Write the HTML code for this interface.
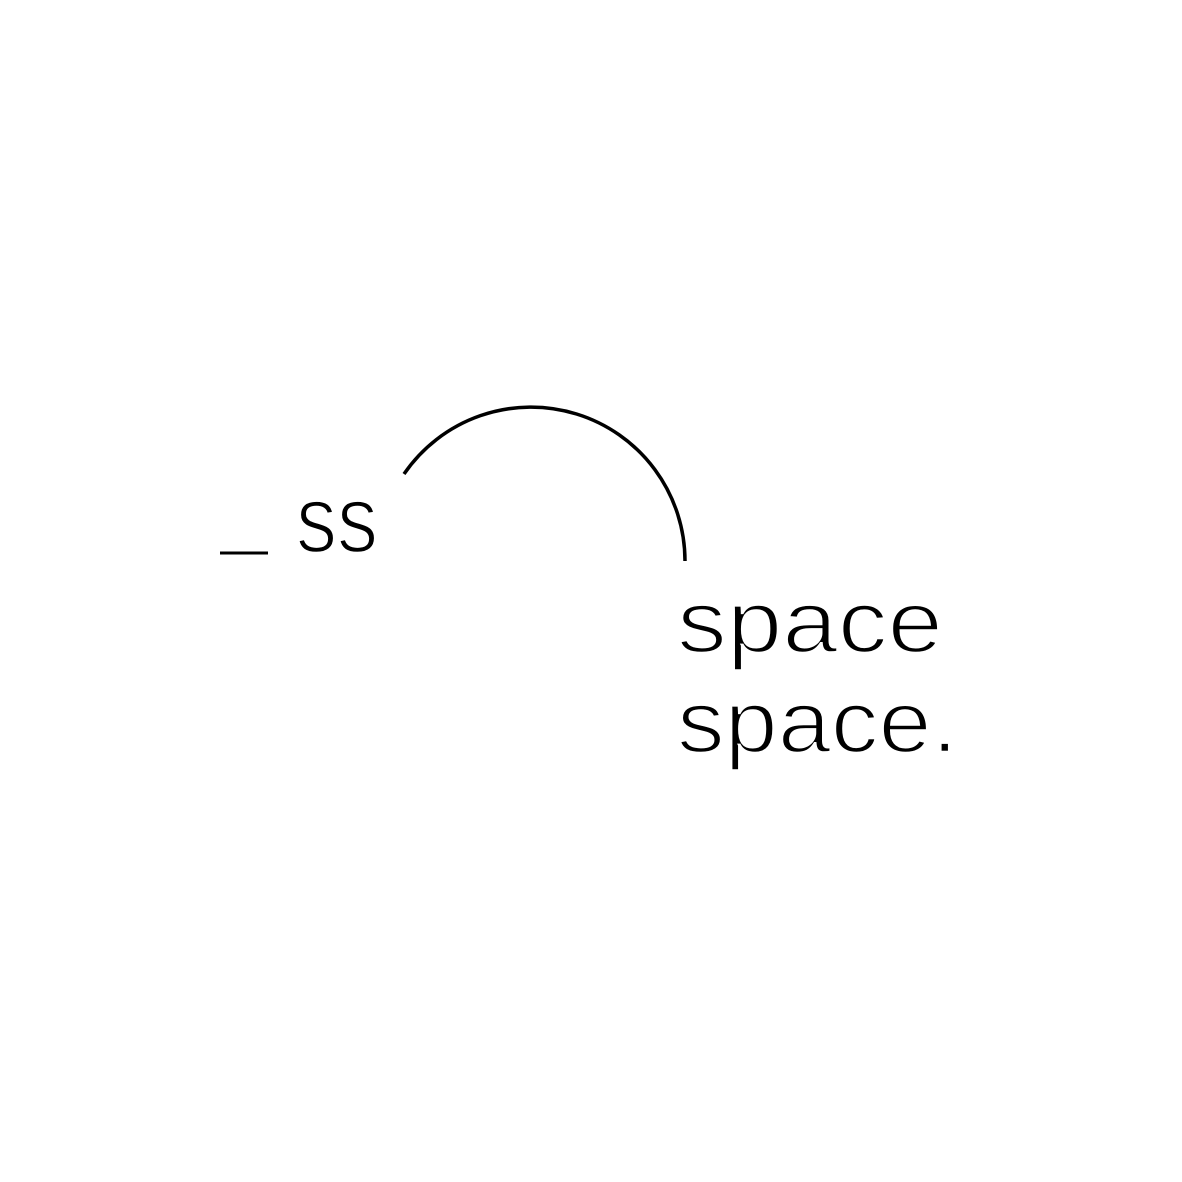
<!DOCTYPE html>
<html>
<head>
<meta charset="utf-8">
<style>
  html,body{margin:0;padding:0;background:#fff;}
  svg{display:block;}
  text{font-family:"Liberation Sans", sans-serif; fill:#000; stroke:#fff; stroke-width:2.5px;}
</style>
</head>
<body>
<svg width="1182" height="1182" viewBox="0 0 1182 1182">
  <rect width="1182" height="1182" fill="#fff"/>
  <line x1="220" y1="553" x2="268" y2="553" stroke="#000" stroke-width="3"/>
  <text x="296" y="552" font-size="96" textLength="82" lengthAdjust="spacingAndGlyphs">ss</text>
  <path d="M404,474 A154,154 0 0 1 685,561" fill="none" stroke="#000" stroke-width="3.5"/>
  <text x="677" y="652" font-size="88" textLength="266" lengthAdjust="spacingAndGlyphs">space</text>
  <text x="677" y="752" font-size="88" textLength="281" lengthAdjust="spacingAndGlyphs">space.</text>
</svg>
</body>
</html>
